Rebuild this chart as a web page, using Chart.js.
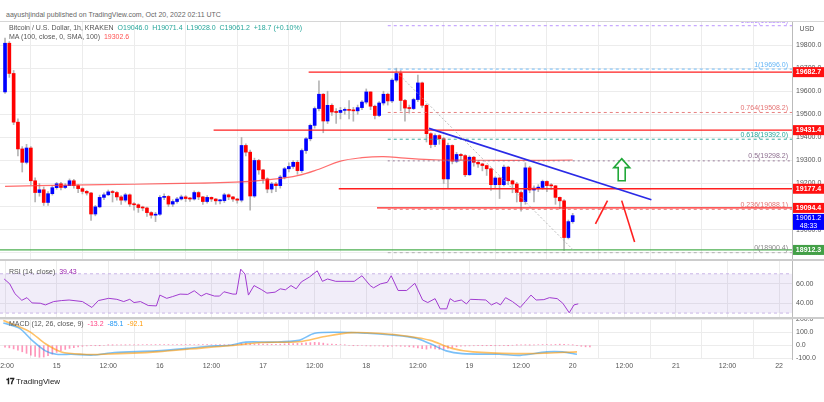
<!DOCTYPE html>
<html><head><meta charset="utf-8">
<script src="https://cdn.jsdelivr.net/npm/chart.js@4.4.0/dist/chart.umd.min.js"></script>
<style>
body{margin:0;width:824px;height:402px;background:#fff;font-family:"Liberation Sans",Arial,sans-serif;overflow:hidden;position:relative}
.p{position:absolute;left:0;width:824px}
.t{position:absolute;font-size:7px;color:#555;white-space:nowrap}
.hl{position:absolute;left:0;width:824px;height:1px;background:#d6d6d6}
</style></head><body>
<div class="t" style="left:6px;top:11px;color:#666">aayushjindal published on TradingView.com, Oct 20, 2022 02:11 UTC</div>
<div class="hl" style="top:21px"></div>
<div class="p" style="top:22px;height:237px"><canvas id="c1"></canvas></div>
<div class="hl" style="top:259px;height:2px;background:#ccc"></div>
<div class="p" style="top:261px;height:56px"><canvas id="c2"></canvas></div>
<div class="hl" style="top:317px;height:2px;background:#ccc"></div>
<div class="p" style="top:319px;height:52px"><canvas id="c3"></canvas></div>
<div class="t" style="left:9px;top:24px">Bitcoin / U.S. Dollar, 1h, KRAKEN &nbsp;<span style="color:#26a69a">O19046.0 &nbsp;H19071.4 &nbsp;L19028.0 &nbsp;C19061.2 &nbsp;+18.7 (+0.10%)</span></div>
<div class="t" style="left:9px;top:33px">MA (100, close, 0, SMA, 100) &nbsp;<span style="color:#ff5252">19302.6</span></div>
<div class="t" style="left:9px;top:268px">RSI (14, close) &nbsp;<span style="color:#9c27b0">39.43</span></div>
<div class="t" style="left:9px;top:320px">MACD (12, 26, close, 9) &nbsp;<span style="color:#ff4081">-13.2</span> &nbsp;<span style="color:#2196f3">-85.1</span> &nbsp;<span style="color:#ff9800">-92.1</span></div>
<div class="t" style="left:6px;top:377px;font-size:8px;color:#222"><b>𝟏𝟕</b> TradingView</div>
<script>
const firstOpen = 19597;
const closes = [19808,19677,19466,19350,19292,19354,19212,19161,19173,19118,19156,19182,19199,19183,19191,19212,19191,19178,19166,19159,19068,19099,19140,19151,19164,19161,19142,19128,19151,19111,19108,19096,19094,19074,19063,19067,19140,19144,19111,19122,19133,19142,19135,19133,19161,19142,19122,19140,19133,19125,19126,19151,19142,19133,19128,19365,19336,19146,19300,19259,19220,19176,19198,19191,19228,19264,19274,19292,19256,19343,19394,19452,19525,19587,19471,19539,19510,19508,19517,19520,19517,19515,19529,19553,19597,19535,19495,19549,19587,19558,19648,19677,19560,19527,19525,19564,19636,19539,19416,19369,19408,19394,19220,19365,19297,19326,19321,19238,19314,19292,19285,19278,19264,19195,19224,19195,19271,19212,19198,19161,19122,19268,19172,19180,19183,19209,19191,19190,19140,19125,18966,19035,19061];
const highs = [19830,19815,19690,19480,19360,19370,19360,19225,19200,19185,19165,19190,19205,19205,19200,19220,19218,19195,19182,19170,19162,19105,19150,19160,19172,19170,19165,19148,19158,19155,19118,19112,19102,19098,19078,19075,19148,19155,19148,19130,19140,19150,19148,19140,19168,19165,19145,19148,19142,19135,19132,19158,19155,19145,19136,19400,19372,19345,19310,19305,19262,19225,19205,19205,19235,19270,19290,19300,19300,19350,19400,19458,19532,19645,19590,19600,19545,19525,19530,19528,19560,19530,19540,19560,19610,19598,19540,19555,19600,19592,19655,19700,19690,19565,19540,19570,19670,19640,19545,19420,19415,19412,19400,19375,19368,19335,19330,19325,19320,19318,19295,19288,19280,19268,19230,19228,19280,19275,19215,19205,19168,19290,19275,19190,19195,19215,19212,19200,19192,19142,19130,19042,19071];
const lows = [19590,19660,19455,19320,19250,19285,19195,19120,19145,19105,19105,19150,19175,19172,19178,19195,19180,19160,19155,19150,19040,19060,19095,19130,19148,19120,19128,19110,19120,19100,19085,19075,19082,19058,19050,19035,19062,19130,19100,19100,19115,19128,19122,19122,19128,19130,19110,19115,19122,19110,19112,19118,19130,19122,19115,19120,19320,19085,19140,19240,19200,19160,19160,19165,19180,19220,19250,19265,19240,19248,19330,19385,19440,19515,19420,19460,19495,19460,19480,19500,19480,19470,19500,19520,19545,19520,19480,19490,19540,19540,19550,19640,19515,19470,19505,19520,19555,19530,19380,19355,19360,19370,19200,19180,19285,19290,19300,19230,19235,19275,19270,19255,19235,19170,19180,19135,19190,19195,19160,19120,19080,19110,19160,19120,19165,19175,19165,19175,19110,19090,18910,18960,19028];
const maHours = [0,15,30,45,55,62,68,73,78,83,88,93,100,110,120,132];
const maValues = [19188,19193,19197,19202,19207,19218,19234,19262,19297,19312,19317,19310,19303,19301,19300,19302];
const timeTicks = ["12:00","15","12:00","16","12:00","17","12:00","18","12:00","19","12:00","20","12:00","21","12:00","22"];
const levelPrices = [19682.7,19431.4,19177.4,19094.4,18912.3];
const levelStart = [70.6,48.5,77.6,86.5,-2];
const levelColors = ["#ff1f1f","#ff1f1f","#ff1f1f","#ff1f1f","#4caf50"];
const fibRatios = ["1.236","1","0.764","0.618","0.5","0.236","0"];
const fibPrices = [19883.8,19696.0,19508.2,19392.0,19298.2,19088.1,18900.4];
const fibColors = ["#b388ff","#64b5f6","#e57373","#26a69a","#8d6e8f","#e57373","#aaaaaa"];
const trendHours = [98.6,150.3], trendPrices = [19439,19130];
const diagHours = [91.1,132.4], diagPrices = [19682,18907];
const arrow1Hours = [137.3,140.1], arrow1Prices = [19025,19126];
const arrow2Hours = [143.4,146.4], arrow2Prices = [19126,18947];
const greenArrow = {hour:143.4, top:19308, bottom:19212};
const rsiHours = [-0.2,1.1,2.3,3.9,5.1,6.3,8.2,9.4,11.3,13.1,14.9,18,20.2,21.7,24.1,26,27.6,29,30,31.5,33.3,35.2,36,37.6,38.9,40.7,42.5,44,45.6,46.8,48.7,49.9,50.9,53,53.8,54.8,55.8,56.6,57.9,59.7,60.9,62.8,64,65.2,66.5,67.7,68.9,70.8,72.6,73.8,75,76.9,79.3,81.2,83,84.9,85.7,87.3,88.9,89.8,91.4,93.4,95.3,97.1,98.3,100,101.2,102.7,103.5,104.5,106.1,107.3,108.2,110,111.8,113.1,114.3,115.2,116.4,118,119.8,121,122.3,123.5,125.3,126.6,128.4,129.7,131.2,132.3,133.3];
const rsiValues = [64.7,59.7,49.7,43,45.7,40.3,40,38.3,41.7,42.7,43.3,41.7,35.7,42.7,45,44,41.7,44,40.7,41.7,37.7,37.3,48.3,45,46.7,49.3,49,52.7,47.3,50,47.3,47.3,51.7,49.3,49.3,74.7,69.7,48.3,58,53.7,50.3,51.3,54.7,53.7,58,54.7,61.7,66.7,73,62.3,64.7,62.3,62.3,62.3,68,58,55.7,59.7,61.3,68,53,53,60.3,43.3,40.7,44.7,34.3,34.3,44.7,41.7,43.3,39.3,44,43.7,43.3,38.3,40.7,38.3,45.7,41.7,35.7,41.7,48.3,43.3,43.7,45.7,44.7,40,30.3,38.3,39.4];
const macdHours = [-0.4,3.3,6.3,9.4,11.9,15.5,20.5,25.4,35.2,42.5,47.4,52.3,56,62.2,68.3,72,78.1,84.2,90.4,95.3,98.9,102.6,106.3,114.9,119.8,126,129.6,133];
const macdValues = [170,130,37,-43,-69,-69,-75,-56,-43,-24,-8,0,24,24,37,91,99,91,77,56,11,-43,-64,-69,-77,-51,-51,-69];
const signalHours = [-0.4,5.7,9.4,13.1,18,22.9,35.2,47.4,53.6,59.7,68.3,74.4,80.6,86.7,94.1,98.9,103.9,108.8,118.6,126,133];
const signalValues = [189,104,11,-51,-69,-69,-51,-16,0,21,27,67,96,91,67,37,-24,-51,-64,-60,-51];
const histValues = [-15,-20,-28,-38,-50,-62,-75,-85,-92,-90,-80,-68,-55,-42,-32,-24,-18,-12,-8,-5,-3,-2,-1,0,1,1,2,2,2,3,3,3,4,4,4,5,5,5,5,4,4,5,5,4,4,5,5,4,4,3,4,4,3,3,4,12,14,10,8,10,8,8,7,7,8,10,12,12,14,16,18,20,22,20,16,10,8,6,4,2,0,-2,-3,-4,-5,-6,-6,-5,-8,-10,-8,-6,-8,-10,-12,-15,-20,-26,-30,-22,-28,-32,-30,-24,-18,-12,-8,-6,-5,-4,-3,-2,-2,-1,-2,-3,-2,-1,0,1,2,2,1,3,4,5,4,3,6,8,6,4,2,-2,-8,-12,-13];
const tagPrices = [19682.7,19431.4,19177.4,19094.4,18912.3];
const tagColors = ["#ff1010","#ff1010","#ff1010","#ff1010","#43a047"];

const opens = [firstOpen].concat(closes.slice(0,-1));
const idx = closes.map((_,i)=>i);
const XMIN=-1.17, XMAX=183;
const FONT = {family:'"Liberation Sans",Arial,sans-serif',size:7};
Chart.defaults.animation=false;
Chart.defaults.font = FONT;
const pts=(xs,ys)=>xs.map((x,i)=>({x,y:ys[i]}));
const lineDs=(data,color,w,dash)=>({type:'line',data,borderColor:color,borderWidth:w,borderDash:dash||[],pointRadius:0,fill:false,tension:0});
const xAxis=(showTicks)=>({type:'linear',min:XMIN,max:XMAX,offset:false,
  afterBuildTicks:s=>{s.ticks=timeTicks.map((_,i)=>({value:i*12}));},
  ticks:{display:showTicks,color:'#555',font:FONT,maxRotation:0,autoSkip:false,padding:3,callback:(v,i)=>timeTicks[i]},
  grid:{color:'#ececec',drawTicks:false},border:{display:false},
  afterFit:s=>{s.height=showTicks?12:0;s.paddingLeft=0;s.paddingRight=0;s.paddingTop=0;s.paddingBottom=0;}});
const yAxis=(min,max,vals,fmt)=>({position:'right',min,max,
  afterBuildTicks:s=>{s.ticks=vals.map(v=>({value:v}));},
  ticks:{color:'#555',font:FONT,padding:4,autoSkip:false,callback:fmt},
  grid:{color:'#ececec',drawTicks:false},border:{display:true,color:'#bbb'},
  afterFit:s=>{s.width=32;s.paddingTop=0;s.paddingBottom=0;s.paddingLeft=0;s.paddingRight=0;}});
const baseOpts=(x,y)=>({responsive:true,maintainAspectRatio:false,layout:{padding:0},
  plugins:{legend:{display:false},tooltip:{enabled:false}},scales:{x,y}});

const ds1=[
  {type:'bar',data:idx.map(i=>({x:i,y:[lows[i],highs[i]]})),backgroundColor:'#b5b5b5',barThickness:1,grouped:false,order:5},
  {type:'bar',data:idx.map(i=>({x:i,y:[opens[i],closes[i]]})),backgroundColor:idx.map(i=>closes[i]>=opens[i]?'#0000ff':'#ff0000'),barThickness:3,minBarLength:1,grouped:false,order:4},
  Object.assign(lineDs(pts(maHours,maValues),'rgba(255,60,60,0.75)',1.2),{tension:0.4,order:3})
];
fibPrices.forEach((p,i)=>ds1.push(Object.assign(lineDs([{x:89,y:p},{x:XMAX,y:p}],fibColors[i],0.9,i==4?[2,3]:[3,3]),{order:2})));
levelPrices.forEach((p,i)=>ds1.push(Object.assign(lineDs([{x:levelStart[i],y:p},{x:XMAX,y:p}],levelColors[i],1.3),{order:1})));
ds1.push(lineDs(pts(diagHours,diagPrices),'#aaa',0.8,[2,2]));
ds1.push(lineDs(pts(trendHours,trendPrices),'#2a2ae6',1.6));
ds1.push(lineDs(pts(arrow1Hours,arrow1Prices),'#ff2020',1.6));
ds1.push(lineDs(pts(arrow2Hours,arrow2Prices),'#ff2020',1.6));

const overlay={id:'ov',afterDraw(c){
  const ctx=c.ctx,x=c.scales.x,y=c.scales.y;
  ctx.save();ctx.font='7px "Liberation Sans",Arial';ctx.textAlign='right';ctx.textBaseline='bottom';
  fibPrices.forEach((p,i)=>{ctx.fillStyle=fibColors[i]==='#aaaaaa'?'#888':fibColors[i];ctx.fillText(fibRatios[i]+'('+p.toFixed(1)+')',788,y.getPixelForValue(p)-1);});
  const cx=x.getPixelForValue(greenArrow.hour),ty=y.getPixelForValue(greenArrow.top),by=y.getPixelForValue(greenArrow.bottom);
  ctx.strokeStyle='#22a83a';ctx.lineWidth=1.6;ctx.beginPath();
  ctx.moveTo(cx,ty);ctx.lineTo(cx+8,ty+9);ctx.lineTo(cx+3.5,ty+9);ctx.lineTo(cx+3.5,by);ctx.lineTo(cx-3.5,by);ctx.lineTo(cx-3.5,ty+9);ctx.lineTo(cx-8,ty+9);ctx.closePath();ctx.stroke();
  ctx.textAlign='center';ctx.textBaseline='middle';ctx.font='bold 7px "Liberation Sans",Arial';
  const ax=793;
  tagPrices.forEach((p,i)=>{const py=y.getPixelForValue(p);ctx.fillStyle=tagColors[i];ctx.fillRect(ax,py-5,31,10);ctx.fillStyle='#fff';ctx.fillText(p.toFixed(1),ax+15.5,py);});
  const lp=y.getPixelForValue(19094.4)+6;
  ctx.fillStyle='#0000ff';ctx.fillRect(ax,lp,31,16);ctx.fillStyle='#fff';ctx.font='7px "Liberation Sans",Arial';
  ctx.fillText('19061.2',ax+15.5,lp+4.5);ctx.fillText('48:33',ax+15.5,lp+12);
  ctx.fillStyle='#555';ctx.fillText('USD',ax+14,7);
  ctx.restore();
}};
new Chart(document.getElementById('c1'),{data:{datasets:ds1},
  options:baseOpts(xAxis(false),yAxis(18873,19900,[18900,19000,19100,19200,19300,19400,19500,19600,19700,19800],v=>v.toFixed(1))),plugins:[overlay]});

const band={id:'band',beforeDatasetsDraw(c){const ctx=c.ctx,y=c.scales.y,a=c.chartArea;
  const t=y.getPixelForValue(70),b=y.getPixelForValue(30);
  ctx.save();ctx.fillStyle='rgba(149,117,205,0.13)';ctx.fillRect(a.left,t,a.right-a.left,b-t);
  ctx.strokeStyle='#c9b6e6';ctx.setLineDash([3,3]);ctx.lineWidth=1;
  [t,b].forEach(v=>{ctx.beginPath();ctx.moveTo(a.left,v);ctx.lineTo(a.right,v);ctx.stroke();});
  ctx.restore();}};
new Chart(document.getElementById('c2'),{data:{datasets:[lineDs(pts(rsiHours,rsiValues),'#a13bd0',1)]},
  options:baseOpts(xAxis(false),yAxis(26,83,[40,60],v=>v.toFixed(2))),plugins:[band]});

new Chart(document.getElementById('c3'),{data:{datasets:[
  {type:'bar',data:histValues.map((v,i)=>({x:i,y:v})),backgroundColor:'rgba(255,64,129,0.55)',barThickness:1,order:3},
  Object.assign(lineDs(pts(macdHours,macdValues),'rgba(33,150,243,0.6)',1.6),{tension:0.3,order:2}),
  Object.assign(lineDs(pts(signalHours,signalValues),'rgba(255,152,0,0.6)',1.6),{tension:0.3,order:1})
]},options:baseOpts(xAxis(true),yAxis(-105,200,[-100,0,100,200],v=>v.toFixed(1)))});
</script>
</body></html>
